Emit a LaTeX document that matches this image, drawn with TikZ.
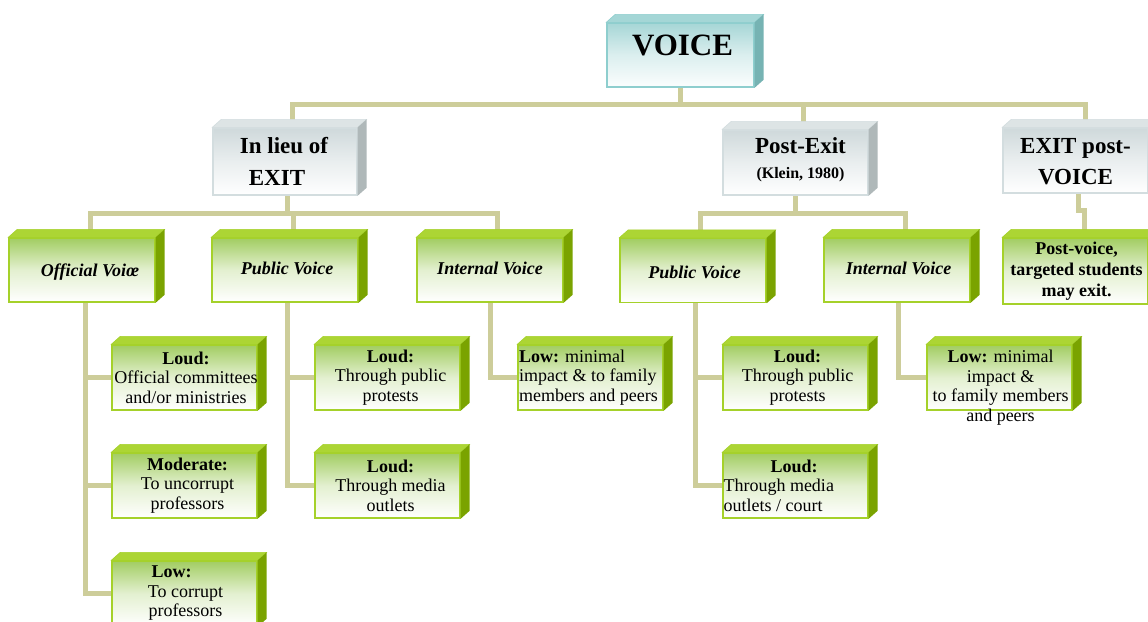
\documentclass[tikz,border=0pt]{standalone}
\usepackage{fontspec}
\setmainfont{Liberation Serif}
\usetikzlibrary{backgrounds}
\definecolor{conncol}{HTML}{CDCD9A}
\definecolor{gborder}{HTML}{A5D12A}
\definecolor{gtopface}{HTML}{ACD534}
\definecolor{gside}{HTML}{7AA300}
\definecolor{gfront}{HTML}{A2CD62}
\definecolor{sborder}{HTML}{D3DDDF}
\definecolor{stopface}{HTML}{DDE4E5}
\definecolor{sside}{HTML}{AFB8B9}
\definecolor{sfront}{HTML}{CFD9DB}
\definecolor{tborder}{HTML}{8ECECE}
\definecolor{ttopface}{HTML}{A4D6D6}
\definecolor{tside}{HTML}{76B3B3}
\definecolor{tfront}{HTML}{A6D6D6}
\tikzset{
  conn/.style={draw=conncol, line width=5pt},
  boxbase/.style={inner sep=0pt, line width=1.4pt, rectangle},
  greenbox/.style={boxbase, draw=gborder, top color=gfront, bottom color=white, middle color=gfront!30!white},
  greybox/.style={boxbase, draw=sborder, top color=sfront, bottom color=white, middle color=sfront!45!white},
  tealbox/.style={boxbase, draw=tborder, top color=tfront, bottom color=white!96!tfront, middle color=tfront!40!white},
  lvlthree/.style={greenbox, minimum width=145pt, minimum height=65pt},
  lvltwo/.style={greenbox, minimum width=146pt, minimum height=64pt},
  smalltext/.style={align=center, font=\fontsize{18}{19.5}\selectfont, inner sep=0pt},
  italtext/.style={align=center, font=\fontsize{18}{20}\selectfont\bfseries\itshape, inner sep=0pt},
  headtext/.style={align=center, font=\fontsize{23}{31.5}\selectfont\bfseries, inner sep=0pt},
}
\newcommand\boxfaces[3]{%
  \filldraw[#2, line width=0.6pt] (#1.north west) -- ++(9,-8) -- ([shift={(9pt,8pt)}]#1.north east) -- (#1.north east) -- cycle;
  \fill[#3] (#1.north east) -- ([shift={(9pt,8pt)}]#1.north east) -- ([shift={(9pt,8pt)}]#1.south east) -- (#1.south east) -- cycle;}
\newcommand\greenfaces[1]{\boxfaces{#1}{fill=gtopface, draw=gborder}{gside}}
\begin{document}
\begin{tikzpicture}[x=1pt, y=-1pt]
\useasboundingbox (0,0) rectangle (1148,621);

% top level
\node[tealbox, minimum width=147pt, minimum height=64pt] (voice) at (680.5,55) {};
\boxfaces{voice}{fill=ttopface, draw=tborder}{tside}
\node[font=\fontsize{31}{34}\selectfont\bfseries, inner sep=0pt] (voicet) at ([xshift=2pt,yshift=10pt]voice.center) {VOICE};

% second level
\node[greybox, minimum width=144pt, minimum height=67pt] (lieu) at (285,161.5) {};
\boxfaces{lieu}{fill=stopface, draw=sborder}{sside}
\node[headtext] (lieut) at ([xshift=-1pt]lieu.center) {In lieu of\\EXIT\hspace*{14pt}\mbox{}};

\node[greybox, minimum width=145pt, minimum height=65pt] (postexit) at (795.5,162.5) {};
\boxfaces{postexit}{fill=stopface, draw=sborder}{sside}
\node[align=center, font=\fontsize{23}{25}\selectfont\bfseries, inner sep=0pt] (postexitt) at ([xshift=5pt,yshift=3pt]postexit.center) {Post-Exit\\{\fontsize{16}{17}\selectfont (Klein, 1980)}};

\node[greybox, minimum width=145pt, minimum height=65pt] (exitpv) at (1075.5,160.5) {};
\boxfaces{exitpv}{fill=stopface, draw=sborder}{sside}
\node[headtext] (exitpvt) at ([yshift=-1pt]exitpv.center) {EXIT post-\\VOICE};

% third level
\node[lvltwo] (official) at (82,270) {};
\greenfaces{official}
\node[italtext] (officialt) at ([xshift=8pt,yshift=-2pt]official.center) {Official Voi\oe};

\node[lvltwo] (publicL) at (285,270) {};
\greenfaces{publicL}
\node[italtext] (publicLt) at ([xshift=2pt,yshift=2pt]publicL.center) {Public Voice};

\node[lvltwo] (internalL) at (490,270) {};
\greenfaces{internalL}
\node[italtext] (internalLt) at ([yshift=2pt]internalL.center) {Internal Voice};

\node[lvltwo] (publicR) at (693,270.5) {};
\greenfaces{publicR}
\node[italtext] (publicRt) at ([xshift=1.5pt,yshift=-2pt]publicR.center) {Public Voice};

\node[lvltwo] (internalR) at (897,270) {};
\greenfaces{internalR}
\node[italtext] (internalRt) at ([xshift=1.5pt,yshift=2pt]internalR.center) {Internal Voice};

\node[greenbox, minimum width=145pt, minimum height=66pt] (postvoice) at (1075.5,271) {};
\greenfaces{postvoice}
\node[smalltext, font=\fontsize{18}{21}\selectfont\bfseries] (postvoicet) at ([xshift=1pt]postvoice.center) {Post-voice,\\targeted students\\may exit.};

% fourth level
\node[lvlthree] (loud1) at (184.5,377.5) {};
\greenfaces{loud1}
\node[smalltext] (loud1t) at ([xshift=1.5pt]loud1.center) {\textbf{Loud:}\\Official committees\\and/or ministries};

\node[lvlthree] (mod1) at (184.5,485.5) {};
\greenfaces{mod1}
\node[smalltext] (mod1t) at ([xshift=3pt]mod1.center) {\textbf{Moderate:}\\To uncorrupt\\professors};

\node[lvlthree] (low1) at (184.5,593.5) {};
\greenfaces{low1}
\node[smalltext] (low1t) at ([xshift=1pt]low1.center) {\textbf{Low:}\hspace*{28pt}\mbox{}\\To corrupt\\professors};

\node[lvlthree] (loud2) at (387.5,377.5) {};
\greenfaces{loud2}
\node[smalltext] (loud2t) at ([xshift=3pt]loud2.center) {\textbf{Loud:}\\Through public\\protests};

\node[lvlthree] (loud3) at (387.5,485.5) {};
\greenfaces{loud3}
\node[smalltext] (loud3t) at ([xshift=3pt]loud3.center) {\textbf{Loud:}\\Through media\\outlets};

\node[lvlthree] (ilow1) at (590.5,377.5) {};
\greenfaces{ilow1}
\node[smalltext, align=left, anchor=west] (ilow1t) at ([xshift=1.5pt]ilow1.west) {\textbf{Low:} minimal\\impact \& to family\\members and peers};

\node[lvlthree] (loud4) at (795.5,377.5) {};
\greenfaces{loud4}
\node[smalltext] (loud4t) at ([xshift=2pt]loud4.center) {\textbf{Loud:}\\Through public\\protests};

\node[lvlthree] (loud5) at (795.5,485.5) {};
\greenfaces{loud5}
\node[smalltext, align=left, anchor=west] (loud5t) at ([xshift=1pt]loud5.west) {\hspace*{47pt}\textbf{Loud:}\\Through media\\outlets / court};

\node[lvlthree] (ilow2) at (999.5,377.5) {};
\greenfaces{ilow2}
\node[smalltext] (ilow2t) at ([xshift=1pt,yshift=-10pt]ilow2.center) {\textbf{Low:} minimal\\impact \&\\to family members\\and peers};

% connectors
\begin{pgfonlayer}{background}
\fill[white] (0,0) rectangle (1148,621);
\draw[conn] (voice.south) -- ++(0,17) coordinate (bus);
\draw[conn] ([xshift=7pt]lieu.north) |- (bus);
\draw[conn] ([xshift=9.5pt]exitpv.north) |- (bus);
\coordinate (pe) at ([xshift=7.5pt]postexit.north);
\draw[conn] (pe) -- (pe |- bus);

\draw[conn] ([xshift=2pt]lieu.south) -- ++(0,18) coordinate (busa);
\draw[conn] ([xshift=8pt]official.north) |- (busa);
\draw[conn] ([xshift=7pt]internalL.north) |- (busa);
\coordinate (pl) at ([xshift=8pt]publicL.north);
\draw[conn] (pl) -- (pl |- busa);

\draw[conn] (postexit.south) -- ++(0,18) coordinate (busb);
\draw[conn] ([xshift=7pt]publicR.north) |- (busb);
\draw[conn] ([xshift=8pt]internalR.north) |- (busb);

\draw[conn] ([xshift=2.5pt]exitpv.south) -- ++(0,17) -| ([xshift=8.5pt]postvoice.north);

\draw[conn] ([xshift=3pt]official.south) |- (loud1.west);
\draw[conn] ([xshift=3pt]official.south) |- (mod1.west);
\draw[conn] ([xshift=3pt]official.south) |- (low1.west);
\draw[conn] ([xshift=2pt]publicL.south) |- (loud2.west);
\draw[conn] ([xshift=2pt]publicL.south) |- (loud3.west);
\draw[conn] (internalL.south) |- (ilow1.west);
\draw[conn] ([xshift=2pt]publicR.south) |- (loud4.west);
\draw[conn] ([xshift=2pt]publicR.south) |- (loud5.west);
\draw[conn] ([xshift=1pt]internalR.south) |- (ilow2.west);
\end{pgfonlayer}
\end{tikzpicture}
\end{document}
